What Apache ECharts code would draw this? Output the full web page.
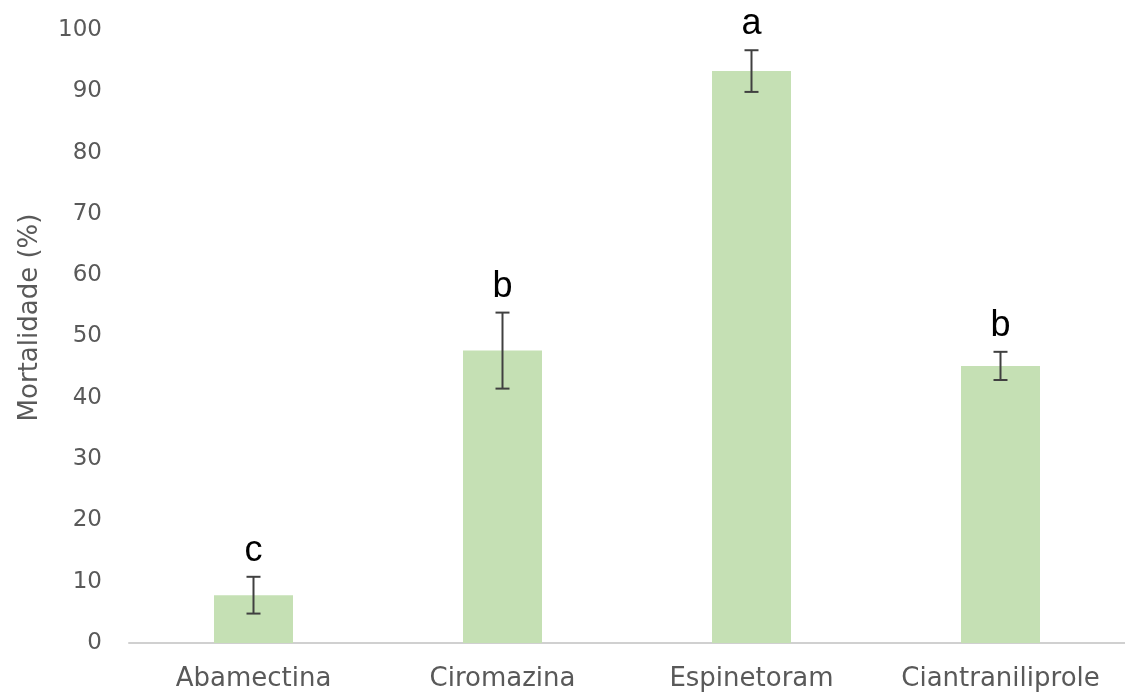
<!DOCTYPE html>
<html>
<head>
<meta charset="utf-8">
<script src="https://cdn.jsdelivr.net/npm/echarts@6/dist/echarts.min.js"></script>
<style>html,body{margin:0;padding:0;background:#fff;}#c{width:1125px;height:695px;}</style>
</head>
<body>
<div id="c"></div>
<script>
const categories = ['Abamectina', 'Ciromazina', 'Espinetoram', 'Ciantraniliprole'];
const means = [7.8, 47.7, 93.3, 45.2];
const errors = [3.0, 6.2, 3.4, 2.3];
const letters = ['c', 'b', 'a', 'b'];
const yTicks = [0, 10, 20, 30, 40, 50, 60, 70, 80, 90, 100];

const errData = categories.map((c, i) => [i, means[i], errors[i], letters[i]]);

const chart = echarts.init(document.getElementById('c'));
chart.setOption({
  animation: false,
  backgroundColor: '#ffffff',
  grid: { left: 129, width: 1000, top: 30, bottom: 52, containLabel: false },
  xAxis: {
    type: 'category',
    data: categories,
    axisLine: { lineStyle: { color: '#d0d0d0', width: 2 } },
    axisTick: { show: false },
    axisLabel: { color: '#595959', fontSize: 26, fontFamily: 'DejaVu Sans', margin: 23, interval: 0, hideOverlap: false }
  },
  yAxis: {
    type: 'value',
    min: yTicks[0], max: yTicks[yTicks.length - 1], interval: 10,
    name: 'Mortalidade (%)',
    nameLocation: 'middle',
    nameGap: 86,
    nameRotate: 90,
    nameTextStyle: { color: '#595959', fontSize: 26, fontFamily: 'DejaVu Sans', padding: [0, 0, 0, 38] },
    axisLine: { show: false },
    axisTick: { show: false },
    splitLine: { show: false },
    axisLabel: { color: '#595959', fontSize: 23, fontFamily: 'DejaVu Sans', margin: 27 }
  },
  series: [
    {
      type: 'bar',
      data: means,
      barWidth: 79,
      itemStyle: { color: '#c5e0b4' }
    },
    {
      type: 'custom',
      data: errData,
      z: 10,
      renderItem: function (params, api) {
        const x = api.value(0), m = api.value(1), e = api.value(2);
        const top = api.coord([x, m + e]);
        const bot = api.coord([x, m - e]);
        const cap = 7;
        const style = { stroke: '#404040', lineWidth: 2 };
        return {
          type: 'group',
          children: [
            { type: 'line', shape: { x1: top[0], y1: top[1], x2: bot[0], y2: bot[1] }, style: style },
            { type: 'line', shape: { x1: top[0] - cap, y1: top[1], x2: top[0] + cap, y2: top[1] }, style: style },
            { type: 'line', shape: { x1: bot[0] - cap, y1: bot[1], x2: bot[0] + cap, y2: bot[1] }, style: style },
            { type: 'text', style: { text: letters[params.dataIndex], x: top[0], y: top[1] - 8, align: 'center', verticalAlign: 'bottom', fontSize: 36, fontFamily: 'Liberation Sans', fill: '#000000' } }
          ]
        };
      }
    }
  ]
});
</script>
</body>
</html>
